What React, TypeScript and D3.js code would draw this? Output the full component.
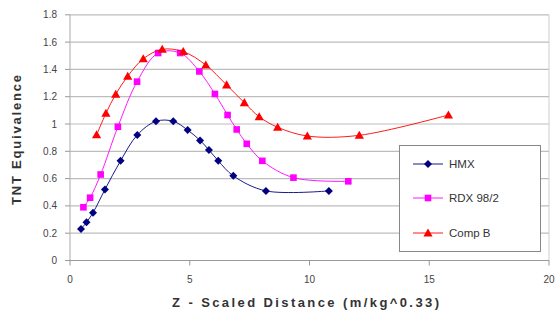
import React from "react";
import * as d3 from "d3";

const hmxX = [0.46, 0.69, 0.96, 1.46, 2.11, 2.81, 3.59, 4.31, 4.91, 5.43, 5.8, 6.19, 6.82, 8.18, 10.81];
const hmxY = [0.23, 0.28, 0.35, 0.52, 0.73, 0.92, 1.02, 1.02, 0.956, 0.88, 0.81, 0.73, 0.62, 0.51, 0.51];

const rdxX = [0.56, 0.84, 1.28, 2.0, 2.8, 3.68, 4.6, 5.4, 6.05, 6.58, 6.96, 7.38, 8.03, 9.33, 11.62];
const rdxY = [0.39, 0.46, 0.63, 0.98, 1.31, 1.52, 1.52, 1.385, 1.22, 1.066, 0.96, 0.855, 0.73, 0.607, 0.58];

const compX = [1.11, 1.5, 1.91, 2.41, 3.06, 3.85, 4.73, 5.67, 6.54, 7.28, 7.9, 8.67, 9.91, 12.08, 15.8];
const compY = [0.92, 1.078, 1.218, 1.35, 1.478, 1.547, 1.53, 1.432, 1.286, 1.156, 1.053, 0.976, 0.912, 0.917, 1.066];

const yTicks = [0, 0.2, 0.4, 0.6, 0.8, 1, 1.2, 1.4, 1.6, 1.8];
const xTicks = [0, 5, 10, 15, 20];
const seriesNames = ["HMX", "RDX 98/2", "Comp B"];
const seriesColors = ["#000080", "#FF00FF", "#FF0000"];
const seriesShapes = ["diamond", "square", "triangle"];

const W = 559;
const H = 313;
const L = 70;
const R = 549;
const T = 14.8;
const B = 260.5;

function Marker({ shape, x, y, color }: { shape: string; x: number; y: number; color: string }) {
  if (shape === "diamond") {
    const s = 4;
    return <path d={`M${x},${y - s}L${x + s},${y}L${x},${y + s}L${x - s},${y}Z`} fill={color} />;
  }
  if (shape === "square") {
    const s = 3.3;
    return <rect x={x - s} y={y - s} width={2 * s} height={2 * s} fill={color} />;
  }
  const s = 4.6;
  return <path d={`M${x},${y - s}L${x + s},${y + s * 0.75}L${x - s},${y + s * 0.75}Z`} fill={color} />;
}

export default function App() {
  const x = d3.scaleLinear().domain([0, 20]).range([L, R]);
  const y = d3.scaleLinear().domain([0, 1.8]).range([B, T]);
  const line = d3
    .line<[number, number]>()
    .x((d) => x(d[0]))
    .y((d) => y(d[1]))
    .curve(d3.curveCatmullRom.alpha(0.5));

  const series = [
    d3.zip(hmxX, hmxY) as [number, number][],
    d3.zip(rdxX, rdxY) as [number, number][],
    d3.zip(compX, compY) as [number, number][],
  ];

  const font = "'Liberation Sans', Arial, sans-serif";
  const legendY = [164, 198, 233];

  return (
    <svg width={W} height={H} style={{ position: "absolute", left: 0, top: 0 }} fontFamily={font}>
      <rect width={W} height={H} fill="#fff" />
      {yTicks.map((t) => (
        <g key={t}>
          <line x1={L} x2={R} y1={y(t)} y2={y(t)} stroke="#bdbdbd" strokeWidth={1.2} />
          <line x1={L - 5} x2={L} y1={y(t)} y2={y(t)} stroke="#999" />
          <text x={L - 13} y={y(t)} dy="0.35em" textAnchor="end" fontSize={10} fill="#444">
            {t}
          </text>
        </g>
      ))}
      <line x1={L} x2={L} y1={T} y2={B} stroke="#aaa" />
      <line x1={R} x2={R} y1={T} y2={B} stroke="#ccc" />
      <line x1={L} x2={R} y1={B} y2={B} stroke="#999" />
      {xTicks.map((t) => (
        <g key={t}>
          <line x1={x(t)} x2={x(t)} y1={B} y2={B + 5} stroke="#999" />
          <text x={x(t)} y={279} dy="0.35em" textAnchor="middle" fontSize={10} fill="#444">
            {t}
          </text>
        </g>
      ))}
      {series.map((s, i) => (
        <g key={i}>
          <path d={line(s) || ""} fill="none" stroke={seriesColors[i]} strokeWidth={0.9} />
          {s.map((d, j) => (
            <Marker key={j} shape={seriesShapes[i]} x={x(d[0])} y={y(d[1])} color={seriesColors[i]} />
          ))}
        </g>
      ))}
      <rect x={399.5} y={145.5} width={141} height={106} fill="#fff" stroke="#888" />
      {seriesNames.map((n, i) => (
        <g key={n}>
          <line x1={413} x2={443} y1={legendY[i]} y2={legendY[i]} stroke={seriesColors[i]} strokeWidth={0.9} />
          <Marker shape={seriesShapes[i]} x={428} y={legendY[i]} color={seriesColors[i]} />
          <text x={449} y={legendY[i]} dy="0.35em" fontSize={11.5} fill="#333">
            {n}
          </text>
        </g>
      ))}
      <text
        transform={`translate(16,140) rotate(-90)`}
        x={-65}
        dy="0.35em"
        fontSize={13}
        fontWeight="bold"
        fill="#333"
        textLength={130}
        lengthAdjust="spacing"
      >
        TNT Equivalence
      </text>
      <text
        x={172}
        y={302.5}
        dy="0.35em"
        fontSize={13}
        fontWeight="bold"
        fill="#333"
        textLength={267}
        lengthAdjust="spacing"
      >
        Z - Scaled Distance (m/kg^0.33)
      </text>
    </svg>
  );
}
